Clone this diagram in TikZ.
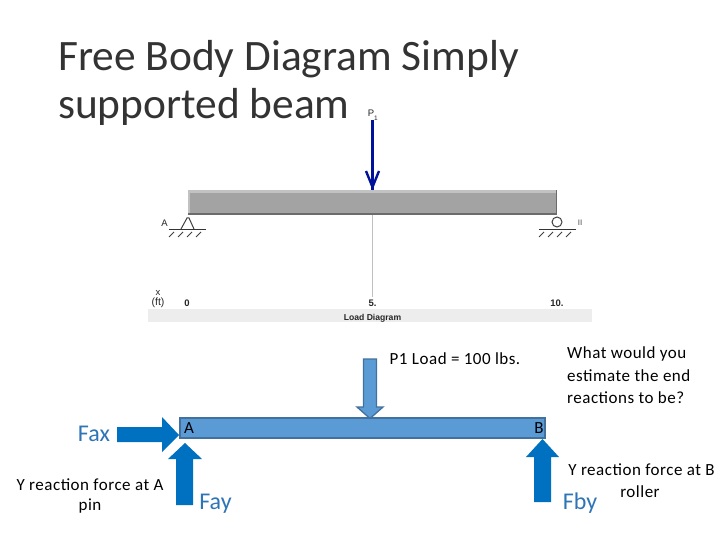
\documentclass[tikz,border=0pt]{standalone}
\usepackage{fontspec}
\setmainfont{Carlito}
\newfontfamily\smallsans{Liberation Sans}
\newfontfamily\bodywide[LetterSpace=3]{Carlito}
\definecolor{arrowblue}{HTML}{0070C0}
\definecolor{beamblue}{HTML}{5B9BD5}
\definecolor{beamedge}{HTML}{41719C}
\definecolor{labelblue}{HTML}{2E75B6}
\definecolor{loadnavy}{HTML}{00129A}
\tikzset{
  lbl/.style={inner sep=0pt,font=\bodywide\fontsize{17}{20}\selectfont,text=black},
  forcelbl/.style={inner sep=0pt,font=\fontsize{24}{28}\selectfont,text=labelblue},
  tiny/.style={inner sep=0pt,font=\smallsans\fontsize{9.5}{11}\selectfont,text=black!85},
  tinybold/.style={inner sep=0pt,font=\smallsans\bfseries\fontsize{9.5}{11}\selectfont,text=black!85},
  titletext/.style={anchor=west,inner sep=0pt,font=\fontsize{43.4}{48}\selectfont,text=black!80},
  ground/.style={line width=0.7pt,black!80},
  force/.style={fill=arrowblue,draw=none},
}
\begin{document}
\begin{tikzpicture}[x=1pt,y=-1pt]
\useasboundingbox (0,0) rectangle (720,540);
\fill[white] (0,0) rectangle (720,540);
% title
\node[titletext] (t1) at (58,59.5) {Free Body Diagram Simply};
\node[titletext] (t2) at (58,106.5) {supported beam};
% upper grey beam
\fill[black!36] (187.5,190) rectangle (557,215);
\fill[black!24] (187.5,190) rectangle (557,193);
\fill[black!24] (187.5,190) rectangle (190,215);
\fill[black!58] (187.5,213) rectangle (557,215);
\fill[black!58] (555.5,190) rectangle (557,215);
% centre line and load
\coordinate (ltop) at (372.5,120);
\coordinate (ltip) at (372.5,190);
\coordinate (lbase) at (372.5,215);
\coordinate (lend) at (372.5,297);
\draw[black!25,line width=0.8pt] (lbase) -- (lend);
\draw[loadnavy,line width=2.6pt] (ltop) -- (ltip);
\draw[loadnavy,line width=2.4pt,line join=miter] (366,171) -- (372.5,187) -- (379,171);
\node[tiny] (p) at (371,113) {P};
\node[inner sep=0pt,font=\smallsans\fontsize{6.5}{7}\selectfont,text=black!85] (ps) at (376,118) {1};
% support A
\draw[ground] (169,229) -- (206,229);
\draw[line width=1pt,black!75] (181,229) -- (187,218) -- (189,218) -- (194,229);
\foreach \a in {169,178,187,196}{\draw[line width=0.8pt,black!75] (\a,237) -- (\a+5,232);}
\node[tiny] (la) at (164.5,223) {A};
% support B
\draw[ground] (539,229) -- (576,229);
\draw[line width=1pt,black!75] (557,222) circle (5);
\foreach \a in {539,548,557,566}{\draw[line width=0.8pt,black!75] (\a,237) -- (\a+5,232);}
\node[inner sep=0pt,font=\smallsans\fontsize{8}{9}\selectfont,text=black!70] (lb) at (580,222.5) {II};
% axis
\fill[black!7] (148,309) rectangle (592,322);
\node[tiny] (x) at (158,293) {x};
\node[tiny,font=\smallsans\fontsize{10.5}{12}\selectfont] (ft) at (158,303) {(ft)};
\node[tinybold] (v0) at (187,303.5) {0};
\node[tinybold] (v5) at (372.5,303.5) {5.};
\node[tinybold] (v10) at (557,303.5) {10.};
\node[tiny,font=\smallsans\bfseries\fontsize{8.6}{10}\selectfont] (ld) at (372.5,318) {Load Diagram};
% lower beam
\draw[fill=beamblue,draw=beamedge,line width=1.3pt] (180,418) rectangle (545,438);
% P1 arrow
\draw[fill=beamblue,draw=beamedge,line width=1.3pt,line join=miter]
  (363.5,359) -- (376.5,359) -- (376.5,407) -- (383,407) -- (370,418.5) -- (357,407) -- (363.5,407) -- cycle;
% force arrows
\fill[force] (117,427) -- (162,427) -- (162,417) -- (179,435) -- (162,452) -- (162,442) -- (117,442) -- cycle;
\fill[force] (176,505) -- (176,459) -- (168,459) -- (185,443) -- (202,459) -- (193,459) -- (193,505) -- cycle;
\fill[force] (534,502) -- (534,457) -- (526,457) -- (542.5,439) -- (559,457) -- (551,457) -- (551,502) -- cycle;
% labels
\node[lbl] (a) at (189,428.5) {A};
\node[lbl] (b) at (539,428.5) {B};
\node[forcelbl] (fax) at (94,434) {Fax};
\node[forcelbl] (fay) at (215.5,503.5) {Fay};
\node[forcelbl] (fby) at (580,503.5) {Fby};
\node[lbl] (load) at (455,359) {P1 Load = 100 lbs.};
\node[lbl,anchor=west] (q1) at (567,354) {What would you};
\node[lbl,anchor=west] (q2) at (567,376) {estimate the end};
\node[lbl,anchor=west] (q3) at (567,398) {reactions to be?};
\node[lbl] (ya1) at (90,485) {Y reaction force at A};
\node[lbl] (ya2) at (90,506) {pin};
\node[lbl] (yb1) at (641.5,470) {Y reaction force at B};
\node[lbl] (yb2) at (640,492) {roller};
\end{tikzpicture}
\end{document}
